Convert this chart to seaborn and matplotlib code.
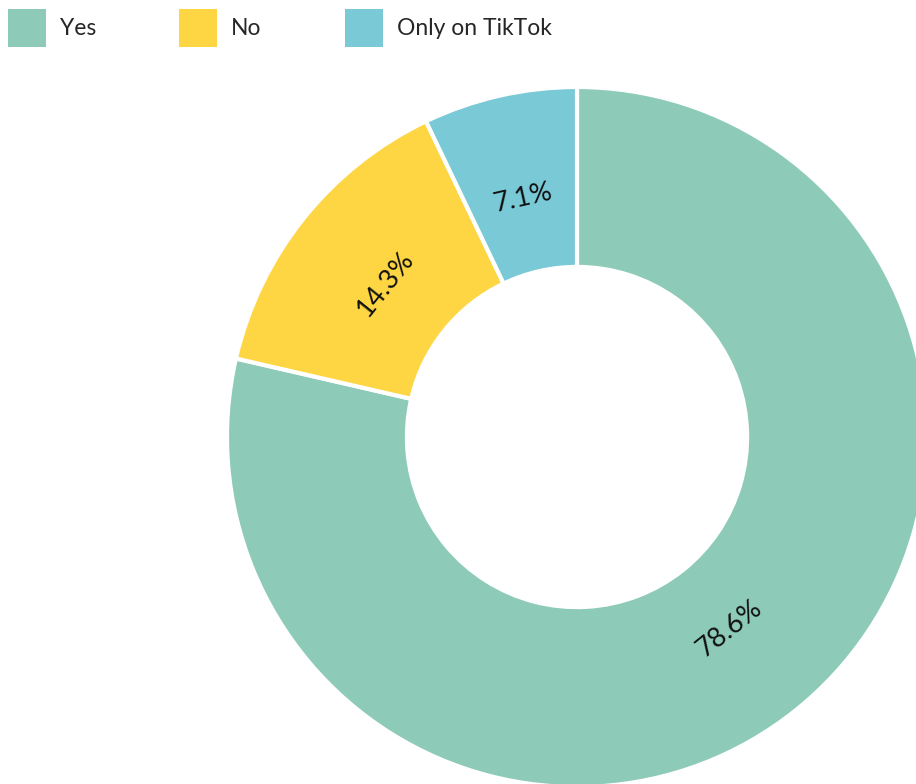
import matplotlib
matplotlib.use("Agg")
import matplotlib.pyplot as plt
from matplotlib.patches import Patch
import seaborn as sns

# data
categories = ["Yes", "No", "Only on TikTok"]
shares = [78.6, 14.3, 7.1]
colors = ["#8DCBB8", "#FED643", "#7AC9D6"]

sns.set_theme(style="white")
plt.rcParams["font.family"] = ["Lato", "DejaVu Sans"]

W, H, R = 916, 784, 350.0
cx, cy = 577, 437  # donut centre in pixels (from top-left)

fig = plt.figure(figsize=(W / 100, H / 100), dpi=100)
ax = fig.add_axes([0, 0, 1, 1])

wedges, texts, autotexts = ax.pie(
    shares,
    colors=colors,
    startangle=90,
    counterclock=False,
    autopct="%.1f%%",
    pctdistance=0.70,
    radius=1.0,
    wedgeprops=dict(width=0.514, edgecolor="white", linewidth=3),
    textprops=dict(fontsize=19.5, color="#111111"),
)

# rotate each percentage label along the ring
for w, t in zip(wedges, autotexts):
    mid = (w.theta1 + w.theta2) / 2.0
    rot = mid - 90
    while rot > 90:
        rot -= 180
    while rot < -90:
        rot += 180
    t.set_rotation(rot)
    t.set_rotation_mode("anchor")
    t.set_ha("center")
    t.set_va("center")

ax.set_xlim(-cx / R, (W - cx) / R)
ax.set_ylim(-(H - cy) / R, cy / R)
ax.set_aspect("auto")
ax.axis("off")

fs = 16.5
fpx = fs * 100 / 72
handles = [Patch(facecolor=c, edgecolor="none") for c in colors]
fig.legend(
    handles,
    categories,
    loc="upper left",
    bbox_to_anchor=(8 / W, 1 - 9 / H),
    ncol=3,
    frameon=False,
    fontsize=fs,
    handlelength=38 / fpx,
    handleheight=2.18,
    handletextpad=14 / fpx,
    columnspacing=83 / fpx,
    borderpad=0,
    borderaxespad=0,
)

fig.savefig("out.png", dpi=100, facecolor="white")
